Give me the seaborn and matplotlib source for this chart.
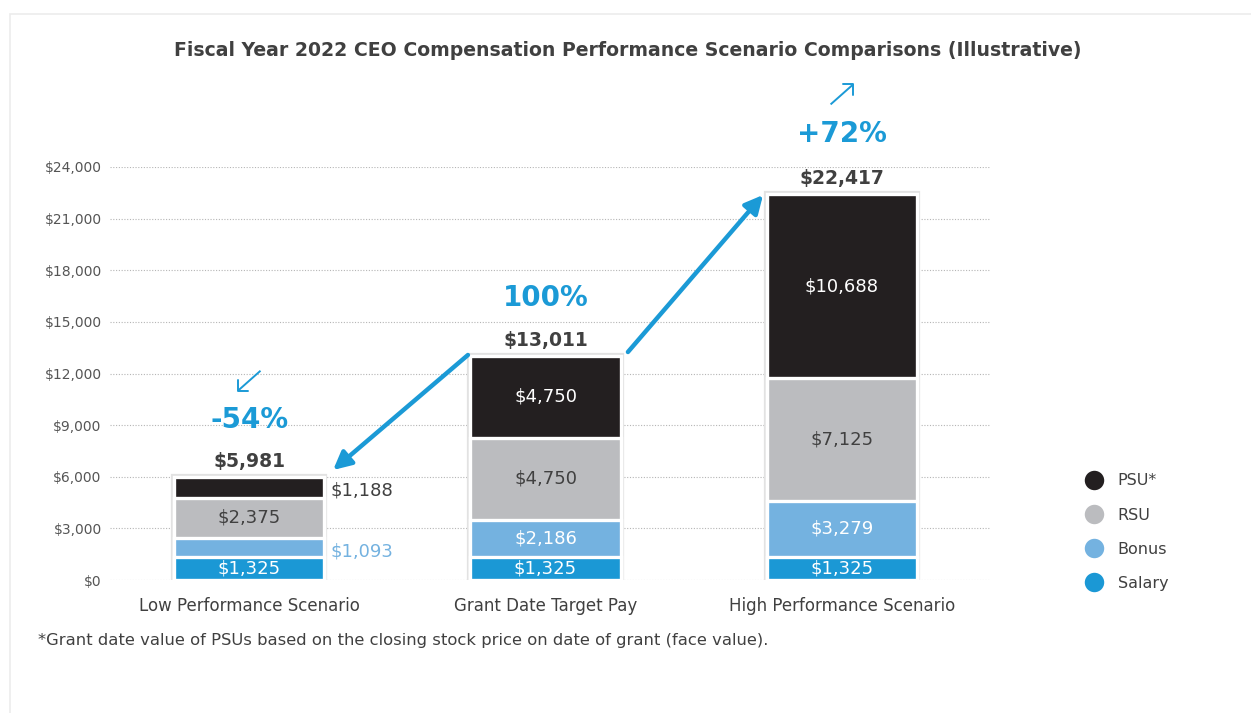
import numpy as np
import pandas as pd
import matplotlib
matplotlib.use("Agg")
import matplotlib.pyplot as plt
from matplotlib.lines import Line2D
from matplotlib.patches import Rectangle
import seaborn as sns

# Compensation components ($ thousands) per scenario
categories = ["Low Performance Scenario", "Grant Date Target Pay", "High Performance Scenario"]
salary = [1325, 1325, 1325]
bonus = [1093, 2186, 3279]
rsu = [2375, 4750, 7125]
psu = [1188, 4750, 10688]
pct_labels = ["-54%", "100%", "+72%"]
y_ticks = [0, 3000, 6000, 9000, 12000, 15000, 18000, 21000, 24000]

components = ["Salary", "Bonus", "RSU", "PSU*"]
colors = {"Salary": "#1b98d5", "Bonus": "#74b2e0", "RSU": "#bbbcbf", "PSU*": "#231f20"}
blue = "#1b9ad6"
text_dark = "#404040"

sns.set_theme(style="white")
plt.rcParams["font.family"] = ["DejaVu Sans"]

df = pd.DataFrame({"Scenario": categories, "Salary": salary, "Bonus": bonus,
                   "RSU": rsu, "PSU*": psu})
cum = df[components].cumsum(axis=1)
totals = cum["PSU*"].to_numpy()

fig = plt.figure(figsize=(12.51, 7.13), dpi=100)
fig.patch.set_facecolor("white")
# card outline
card = Rectangle((10 / 1251, -0.1), 1.2, (713 - 14) / 713 + 0.1,
                 transform=fig.transFigure, facecolor="white",
                 edgecolor="#ececec", linewidth=1.2, zorder=-10)
fig.patches.append(card)

ax = fig.add_axes([110 / 1251, (713 - 580) / 713, 880 / 1251, 413 / 713])
ax.set_facecolor("none")

bar_w = 0.507
# soft shadow behind each stack
sns.barplot(data=df, x="Scenario", y=cum["PSU*"], color="white", width=bar_w,
            edgecolor="#e2e2e2", linewidth=4.5, ax=ax, zorder=2)
# stacked segments, drawn from the tallest cumulative level downwards
for comp in reversed(components):
    sns.barplot(data=df, x="Scenario", y=cum[comp], color=colors[comp], width=bar_w,
                edgecolor="white", linewidth=2.4, ax=ax, zorder=3, saturation=1)

ax.set_xlim(-0.47, 2.5)
ax.set_ylim(0, 24000)
ax.set_yticks(y_ticks)
ax.set_yticklabels([f"${v:,.0f}" for v in y_ticks], fontsize=10, color="#555555")
ax.yaxis.grid(True, linestyle=(0, (1, 1.5)), color="#b5b5b5", linewidth=0.8)
ax.set_axisbelow(True)
ax.tick_params(axis="y", length=0, pad=6)
ax.tick_params(axis="x", length=0, pad=12, labelsize=12, labelcolor=text_dark)
ax.set_xlabel("")
ax.set_ylabel("")
for s in ax.spines.values():
    s.set_visible(False)

# segment values
for i in range(len(categories)):
    base = 0
    for comp in components:
        v = df.loc[i, comp]
        mid = base + v / 2
        base += v
        if i == 0 and comp == "PSU*":
            ax.text(i + bar_w / 2 + 0.02, mid - 200, f"${v:,.0f}", ha="left", va="center",
                    fontsize=13, color=text_dark, zorder=5)
        elif i == 0 and comp == "Bonus":
            ax.text(i + bar_w / 2 + 0.02, mid - 200, f"${v:,.0f}", ha="left", va="center",
                    fontsize=13, color=colors["Bonus"], zorder=5)
        else:
            c = text_dark if comp == "RSU" else "white"
            ax.text(i, mid, f"${v:,.0f}", ha="center", va="center", fontsize=13,
                    color=c, zorder=5)
    ax.text(i, totals[i] + 350, f"${totals[i]:,.0f}", ha="center", va="bottom",
            fontsize=13.5, fontweight="bold", color=text_dark, zorder=5)

# percentage call-outs
pct_offset = [2150, 2230, 2330]
for i, lab in enumerate(pct_labels):
    ax.text(i, totals[i] + 350 + pct_offset[i], lab, ha="center", va="bottom",
            fontsize=20, fontweight="bold", color=blue, clip_on=False, zorder=5)

# small direction glyphs above the outer call-outs
def small_arrow(x, y, dx, dy):
    ax.plot([x - dx, x + dx], [y - dy, y + dy], color=blue, lw=1.4, clip_on=False,
            solid_capstyle="butt")
    sx = -1 if dx > 0 else 1
    sy = -1 if dy > 0 else 1
    ax.plot([x + dx + sx * 0.034, x + dx, x + dx], [y + dy, y + dy, y + dy + sy * 600],
            color=blue, lw=1.4, clip_on=False)

small_arrow(0, totals[0] + 5600, -0.038, -580)
small_arrow(2, totals[2] + 5800, 0.038, 580)

# connecting arrows between scenarios
arrow_kw = dict(arrowstyle="-|>,head_length=0.9,head_width=0.45", color=blue, lw=3.2,
                shrinkA=0, shrinkB=0)
ax.annotate("", xy=(0.283, 6392), xytext=(0.738, 13075), arrowprops=arrow_kw,
            annotation_clip=False, zorder=6)
ax.annotate("", xy=(1.734, 22373), xytext=(1.278, 13249), arrowprops=arrow_kw,
            annotation_clip=False, zorder=6)

# legend
handles = [Line2D([0], [0], marker="o", linestyle="none", markersize=15.5,
                  markerfacecolor=colors[c], markeredgecolor="white", markeredgewidth=1.5)
           for c in reversed(components)]
fig.legend(handles, list(reversed(components)), loc="upper left",
           bbox_to_anchor=(1064 / 1251, 1 - 459 / 713), frameon=False,
           fontsize=11.5, labelcolor=text_dark, labelspacing=1.2, handletextpad=0.45)

fig.text(628 / 1251, 1 - 50 / 713,
         "Fiscal Year 2022 CEO Compensation Performance Scenario Comparisons (Illustrative)",
         ha="center", va="center", fontsize=13.6, fontweight="bold", color=text_dark)
fig.text(38 / 1251, 1 - 640 / 713,
         "*Grant date value of PSUs based on the closing stock price on date of grant (face value).",
         ha="left", va="center", fontsize=11.8, color=text_dark)

fig.savefig("out.png", dpi=100, facecolor="white")
